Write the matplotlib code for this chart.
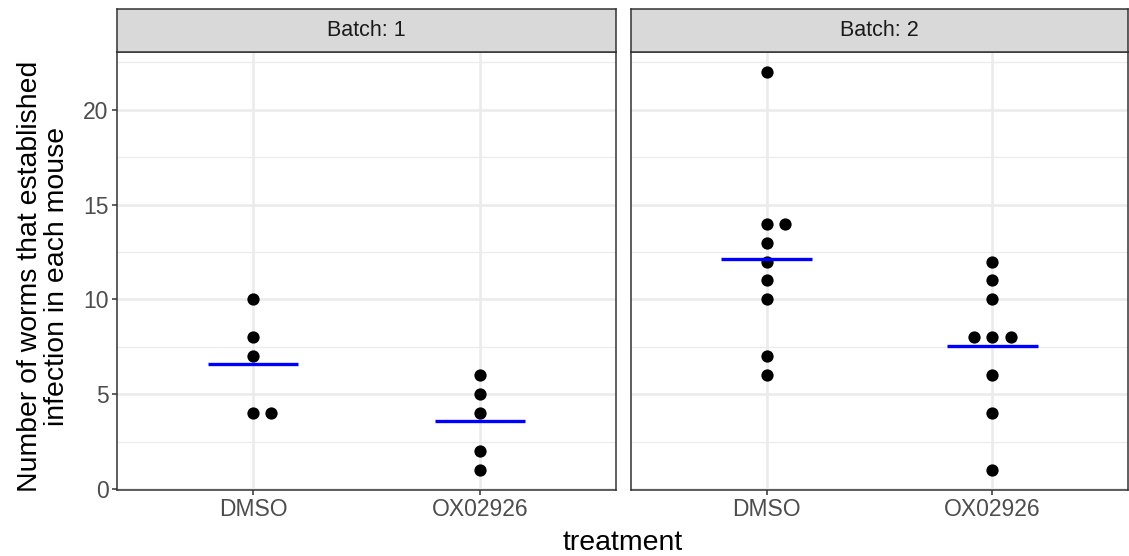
import matplotlib.pyplot as plt
import numpy as np

# data
treatments = ['DMSO', 'OX02926']
batches = ['Batch: 1', 'Batch: 2']
b1_dmso = [10, 8, 7, 4, 4]
b1_ox = [6, 5, 4, 2, 1]
b2_dmso = [22, 14, 14, 13, 12, 11, 10, 7, 6]
b2_ox = [12, 11, 10, 8, 8, 8, 6, 4, 1]
panel_data = [[b1_dmso, b1_ox], [b2_dmso, b2_ox]]
y_ticks = [0, 5, 10, 15, 20]

dark = '#333333'
grid_col = '#EBEBEB'
tick_col = '#4D4D4D'
font = ['Liberation Sans', 'DejaVu Sans']
plt.rcParams['font.family'] = font


def spread(values, step=0.08):
    # side-by-side offsets for tied values
    values = np.asarray(values)
    offs = np.zeros(len(values))
    for v in np.unique(values):
        idx = np.where(values == v)[0]
        k = len(idx)
        offs[idx] = (np.arange(k) - (k - 1) // 2) * step
    return offs


fig = plt.figure(figsize=(11.29, 5.56), dpi=100)
fig.patch.set_facecolor('white')

W, H = 1129, 556
panels = [(117, 616), (631, 1128)]
top, bottom, strip_top = 52, 490, 9

for p, (x0, x1) in enumerate(panels):
    ax = fig.add_axes([x0 / W, 1 - bottom / H, (x1 - x0) / W, (bottom - top) / H])
    ax.set_facecolor('white')
    ax.set_xlim(0.4, 2.6)
    ax.set_ylim(-0.05, 23.05)
    ax.set_yticks(y_ticks)
    ax.set_yticks([2.5, 7.5, 12.5, 17.5, 22.5], minor=True)
    ax.set_xticks([1, 2])
    ax.set_xticklabels(treatments)
    ax.grid(True, which='major', color=grid_col, linewidth=1.8, zorder=0)
    ax.grid(True, which='minor', axis='y', color=grid_col, linewidth=0.9, zorder=0)
    ax.set_axisbelow(True)
    for s in ax.spines.values():
        s.set_color(dark)
        s.set_linewidth(1.1)
    ax.tick_params(axis='both', which='major', length=3.6, width=1.1, color=dark,
                   labelcolor=tick_col, labelsize=16.5, pad=2.5)
    ax.tick_params(axis='y', which='minor', length=0)
    if p == 1:
        ax.tick_params(axis='y', labelleft=False, length=0)

    for i, vals in enumerate(panel_data[p]):
        xs = i + 1 + spread(vals)
        ax.scatter(xs, vals, s=78, color='black', zorder=3, linewidths=0)
        m = np.mean(vals)
        ax.plot([i + 1 - 0.2, i + 1 + 0.2], [m, m], color='#0000FF', linewidth=2.4,
                zorder=4, solid_capstyle='butt')

    sax = fig.add_axes([x0 / W, 1 - top / H, (x1 - x0) / W, (top - strip_top) / H])
    sax.set_facecolor('#D9D9D9')
    sax.set_xticks([])
    sax.set_yticks([])
    for s in sax.spines.values():
        s.set_color(dark)
        s.set_linewidth(1.1)
    sax.text(0.5, 0.5, batches[p], ha='center', va='center', fontsize=15.5,
             color='#1A1A1A', transform=sax.transAxes)

fig.text(623 / W, 1 - 543 / H, 'treatment', ha='center', va='center', fontsize=20.5)
fig.text(43.5 / W, 1 - 276 / H, 'Number of worms that established\ninfection in each mouse',
         ha='center', va='center', rotation=90, fontsize=20.4, linespacing=1.03)

fig.savefig('out.png', dpi=100)
